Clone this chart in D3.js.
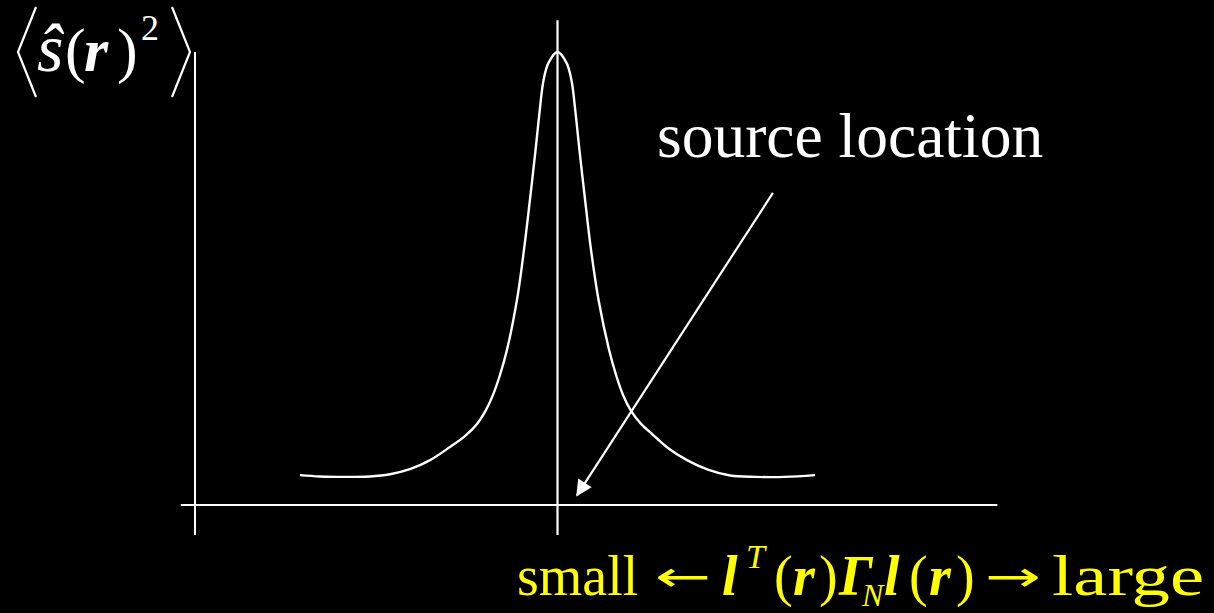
<!DOCTYPE html>
<html>
<head>
<meta charset="utf-8">
<script src="https://cdn.jsdelivr.net/npm/d3@7"></script>
<style>
  html, body { margin: 0; padding: 0; background: #000; }
  svg { display: block; }
</style>
</head>
<body>
<svg id="chart" width="1214" height="613"></svg>
<script>
// Beamformer output power around the source position (normalised units)
const offsets = [-0.998, -0.921, -0.824, -0.727, -0.649, -0.572, -0.494, -0.417, -0.359, -0.312, -0.277, -0.250, -0.223, -0.196, -0.157, -0.130, -0.107, -0.085, -0.070, -0.054, -0.035, 0,
                 0.035, 0.054, 0.070, 0.085, 0.107, 0.130, 0.159, 0.200, 0.227, 0.254, 0.285, 0.324, 0.370, 0.428, 0.502, 0.583, 0.669, 0.766, 0.882, 0.998];
const power   = [0.066, 0.063, 0.062, 0.063, 0.068, 0.079, 0.099, 0.128, 0.152, 0.179, 0.210, 0.243, 0.287, 0.342, 0.453, 0.563, 0.673, 0.784, 0.865, 0.938, 0.976, 1.0,
                 0.976, 0.938, 0.865, 0.784, 0.673, 0.563, 0.453, 0.342, 0.287, 0.243, 0.208, 0.179, 0.155, 0.126, 0.099, 0.078, 0.065, 0.062, 0.062, 0.066];

// Annotation arrow: from the label towards the source on the axis
const arrowFrom = [0.835, 0.689];
const arrowTo   = [0.076, 0.022];

const yTitle = { hat: "ŝ", open: "(", vec: "r", close: ")", power: "2" };
const xLeft = "small", xRight = "large";

const svg = d3.select("#chart");
const W = 1214, H = 613;
svg.append("rect").attr("width", W).attr("height", H).attr("fill", "#000");

const x = d3.scaleLinear().domain([-1, 1]).range([299.5, 815.5]);
const y = d3.scaleLinear().domain([0, 1]).range([505, 52]);

const white = "#ffffff";

// axes
svg.append("line")
  .attr("x1", x(-1.46)).attr("x2", x(1.705))
  .attr("y1", y(0)).attr("y2", y(0))
  .attr("stroke", white).attr("stroke-width", 2);
svg.append("line")
  .attr("x1", x(-1.405)).attr("x2", x(-1.405))
  .attr("y1", y(1)).attr("y2", y(-0.066))
  .attr("stroke", white).attr("stroke-width", 2);
// source position marker
svg.append("line")
  .attr("x1", x(0)).attr("x2", x(0))
  .attr("y1", y(1.07)).attr("y2", y(-0.066))
  .attr("stroke", white).attr("stroke-width", 2.2);

// power curve
const line = d3.line()
  .x((d, i) => x(offsets[i]))
  .y(d => y(d))
  .curve(d3.curveCatmullRom.alpha(0.5));
svg.append("path")
  .attr("d", line(power))
  .attr("fill", "none")
  .attr("stroke", white)
  .attr("stroke-width", 2.4);

// arrow
const defs = svg.append("defs");
defs.append("marker")
  .attr("id", "head")
  .attr("viewBox", "0 0 10 10")
  .attr("refX", 9).attr("refY", 5)
  .attr("markerUnits", "userSpaceOnUse")
  .attr("markerWidth", 20).attr("markerHeight", 16)
  .attr("orient", "auto")
  .append("path").attr("d", "M0,0 L10,5 L0,10 Z").attr("fill", white);
svg.append("line")
  .attr("x1", x(arrowFrom[0])).attr("y1", y(arrowFrom[1]))
  .attr("x2", x(arrowTo[0])).attr("y2", y(arrowTo[1]))
  .attr("stroke", white).attr("stroke-width", 2.2)
  .attr("marker-end", "url(#head)");

const serif = "'Liberation Serif', 'Times New Roman', serif";

svg.append("text")
  .attr("x", 657).attr("y", 157)
  .attr("font-family", serif).attr("font-size", 63.5)
  .attr("fill", white)
  .text("source location");

// y title: <ŝ(r)^2>
const bracket = d3.line();
svg.append("path")
  .attr("d", bracket([[36, 7], [18, 52], [36, 97]]))
  .attr("fill", "none").attr("stroke", white).attr("stroke-width", 2.2);
svg.append("path")
  .attr("d", bracket([[172, 7], [190, 52], [172, 97]]))
  .attr("fill", "none").attr("stroke", white).attr("stroke-width", 2.2);
const yt = svg.append("text")
  .attr("font-family", serif).attr("font-size", 62).attr("fill", white);
yt.append("tspan").attr("x", 37).attr("y", 71).attr("font-style", "italic").attr("font-size", 68).text(yTitle.hat);
yt.append("tspan").attr("x", 65).attr("y", 71).text(yTitle.open);
yt.append("tspan").attr("x", 84).attr("y", 71).attr("font-style", "italic").attr("font-weight", "bold").text(yTitle.vec);
yt.append("tspan").attr("x", 117).attr("y", 71).text(yTitle.close);
yt.append("tspan").attr("x", 141).attr("y", 40).attr("font-size", 36).text(yTitle.power);

// x title: small <- l^T(r) Γ_N l(r) -> large
const yellow = "#ffff00";
const xt = svg.append("text")
  .attr("font-family", serif).attr("font-size", 56).attr("fill", yellow);
const base = 595;
const piece = (px, py, txt) => xt.append("tspan").attr("x", px).attr("y", py).text(txt);
const arrowFont = "'DejaVu Sans', sans-serif";
piece(517, base, xLeft);
piece(655, 591, "←").attr("font-family", arrowFont).attr("font-size", 42).attr("textLength", 56).attr("lengthAdjust", "spacingAndGlyphs");
piece(722, base, "l").attr("font-style", "italic").attr("font-weight", "bold");
piece(746, 568, "T").attr("font-style", "italic").attr("font-size", 34);
piece(774, base, "(");
piece(793, base, "r").attr("font-style", "italic").attr("font-weight", "bold");
piece(819, base, ")");
piece(839, base, "Γ").attr("font-style", "italic").attr("font-weight", "bold");
piece(862, 606, "N").attr("font-style", "italic").attr("font-size", 32);
piece(884, base, "l").attr("font-style", "italic").attr("font-weight", "bold");
piece(909, base, "(");
piece(929, base, "r").attr("font-style", "italic").attr("font-weight", "bold");
piece(956, base, ")");
piece(985, 591, "→").attr("font-family", arrowFont).attr("font-size", 42).attr("textLength", 56).attr("lengthAdjust", "spacingAndGlyphs");
piece(1052, base, xRight).attr("textLength", 152).attr("lengthAdjust", "spacingAndGlyphs");
</script>
</body>
</html>
